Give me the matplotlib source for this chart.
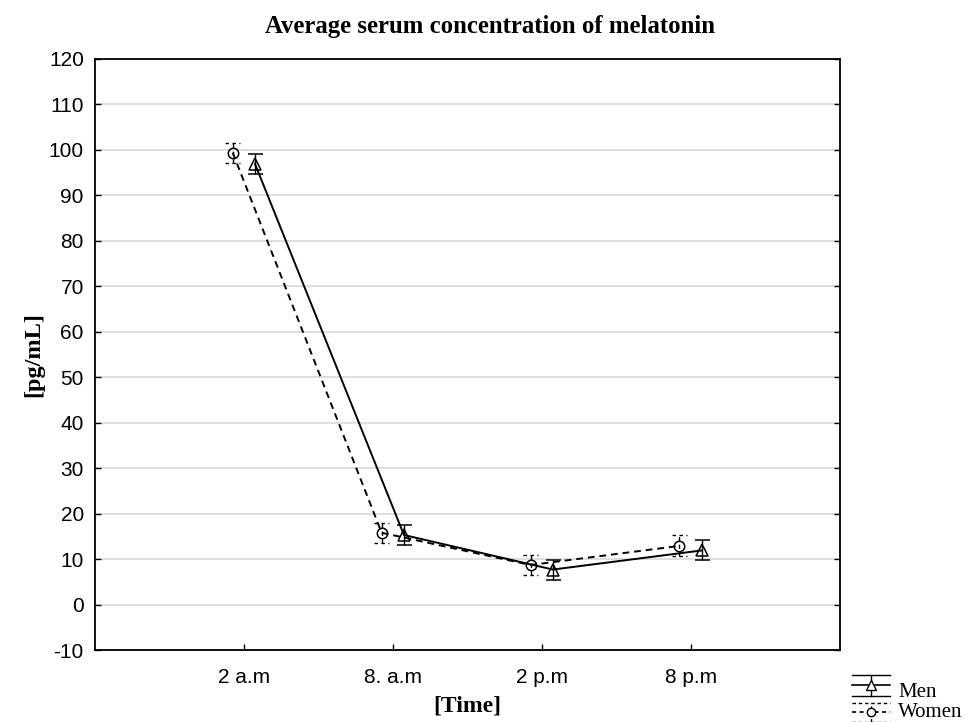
import matplotlib.pyplot as plt
import numpy as np
from matplotlib.legend_handler import HandlerBase
from matplotlib.lines import Line2D

# values
times = ["2 a.m", "8. a.m", "2 p.m", "8 p.m"]
men_mean = [96.9, 15.3, 7.7, 11.9]
men_err = [2.2, 2.3, 2.2, 2.2]
women_mean = [99.4, 15.8, 8.7, 12.9]
women_err = [2.2, 2.2, 2.3, 2.3]
y_ticks = list(range(-10, 121, 10))

plt.rcParams["font.family"] = ["Liberation Sans", "DejaVu Sans"]
plt.rcParams["axes.unicode_minus"] = False
serif = ["Liberation Serif", "DejaVu Serif"]

DASH = (0, (3.5, 2.5))


class ErrLegendHandler(HandlerBase):
    """Legend key: wide caps above/below, line with marker through the middle."""

    def __init__(self, ls, marker, msize, dy=0.0, h=7.0):
        super().__init__()
        self.ls = ls
        self.marker = marker
        self.msize = msize
        self.dy = dy
        self.h = h

    def create_artists(self, legend, orig_handle, xdescent, ydescent,
                       width, height, fontsize, trans):
        x0, x1 = -xdescent, width - xdescent
        xm = (x0 + x1) / 2
        yc = height / 2 - ydescent + self.dy
        h = self.h
        kw = dict(color="black", transform=trans)
        mid = Line2D([x0, x1], [yc, yc], linestyle=self.ls, linewidth=1.2, **kw)
        top = Line2D([x0, x1], [yc + h, yc + h], linestyle=self.ls, linewidth=1.0, **kw)
        bot = Line2D([x0, x1], [yc - h, yc - h], linestyle=self.ls, linewidth=1.0, **kw)
        vert = Line2D([xm, xm], [yc - h, yc + h], linestyle=self.ls, linewidth=1.0, **kw)
        mk = Line2D([xm], [yc], marker=self.marker, markersize=self.msize,
                    markerfacecolor="white", markeredgewidth=1.0, linestyle="none", **kw)
        return [top, bot, vert, mid, mk]


fig = plt.figure(figsize=(9.72, 7.22), dpi=100)
ax = fig.add_axes([0.0977, 0.0997, 0.7660, 0.8186])

x = np.arange(len(times))
off = 0.075

ax.errorbar(x + off, men_mean, yerr=men_err, color="black", linewidth=1.4,
            elinewidth=1.0, capsize=5.4, capthick=1.0, marker="^", markersize=8,
            markerfacecolor="none", markeredgewidth=1.1, zorder=3)
women = ax.errorbar(x - off, women_mean, yerr=women_err, color="black", linewidth=1.4,
                    linestyle=DASH, elinewidth=1.0, capsize=0,
                    marker="o", markersize=7.5, markerfacecolor="none",
                    markeredgewidth=1.1, zorder=3)
women[2][0].set_linestyle((0, (3, 2.5)))

# dashed caps for women
lo = np.array(women_mean) - np.array(women_err)
hi = np.array(women_mean) + np.array(women_err)
ax.hlines(np.concatenate([lo, hi]), np.tile(x - off - 0.05, 2), np.tile(x - off + 0.05, 2),
          colors="black", linewidth=1.0, linestyles=(0, (2.5, 2.5)), zorder=3)

ax.set_xlim(-1, 4)
ax.set_ylim(-10, 120)
ax.set_xticks(x)
ax.set_xticklabels(times)
ax.set_yticks(y_ticks)
ax.tick_params(direction="in", length=4, width=1, labelsize=15, colors="black",
               right=True, top=False, pad=8)
ax.tick_params(axis="x", pad=13)
ax.yaxis.grid(True, color="#d9d9d9", linewidth=1.2)
ax.set_axisbelow(True)
for sp in ax.spines.values():
    sp.set_linewidth(1.3)

ax.set_xlabel("[Time]", fontsize=17, fontweight="bold", family=serif, labelpad=6)
ax.set_ylabel("[pg/mL]", fontsize=17.5, fontweight="bold", family=serif, labelpad=3)
fig.text(0.504, 0.963, "Average serum concentration of melatonin", ha="center",
         va="center", fontsize=17.8, fontweight="bold", family=serif)

men_key = Line2D([], [], label="Men")
women_key = Line2D([], [], label="Women")
fig.legend(handles=[men_key, women_key], loc="lower left", bbox_to_anchor=(0.877, 0.0),
           frameon=False, prop={"family": serif, "size": 15}, handlelength=1.8,
           handleheight=0.7, handletextpad=0.4, labelspacing=0.0,
           borderaxespad=0, borderpad=0,
           handler_map={men_key: ErrLegendHandler("-", "^", 6.5, dy=3.5, h=7.5),
                        women_key: ErrLegendHandler((0, (2.5, 2)), "o", 6, dy=-2.0, h=7.0)})

fig.savefig("out.png", dpi=100)
